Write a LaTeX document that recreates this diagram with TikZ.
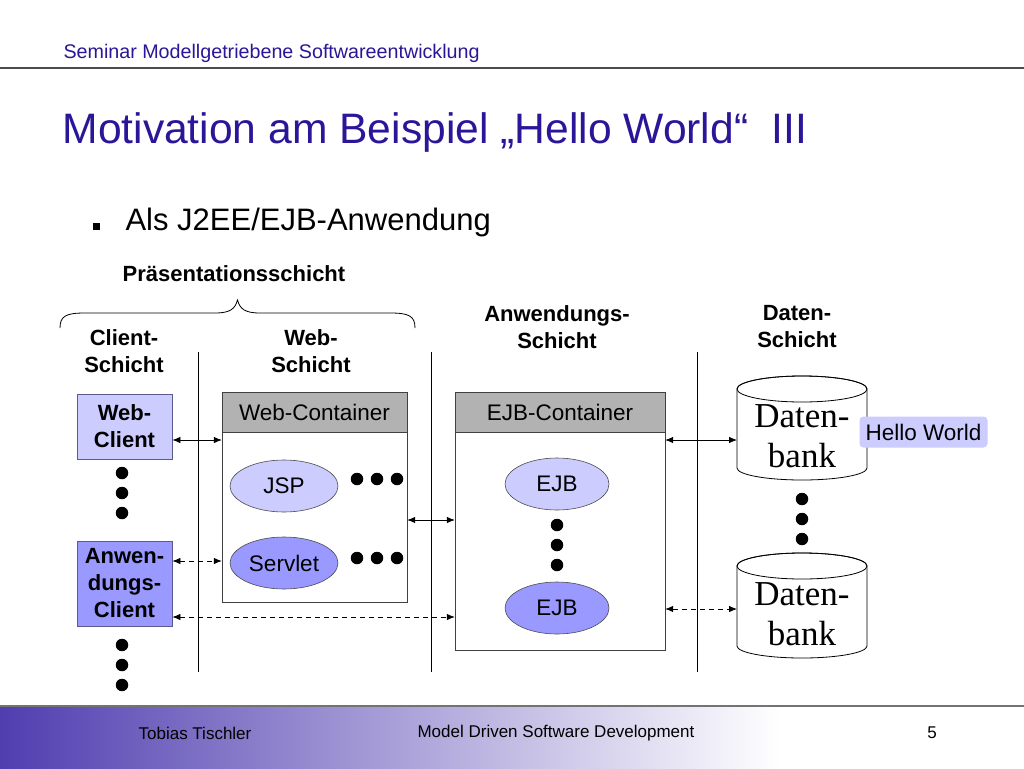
\documentclass[tikz,border=0pt]{standalone}
\usepackage{fontspec}
\setmainfont{Liberation Sans}
\newfontfamily\serifdb{Liberation Serif}
\usetikzlibrary{arrows.meta,shapes.geometric}
\definecolor{tblue}{RGB}{42,22,152}
\definecolor{lightlav}{RGB}{204,204,255}
\definecolor{midlav}{RGB}{153,153,255}
\definecolor{hdrgray}{RGB}{178,178,178}
\definecolor{footL}{RGB}{80,62,176}
\definecolor{boxborder}{RGB}{90,90,140}
\tikzset{
  fs/.style={font=\fontsize{#1}{#1}\selectfont},
  lbl/.style={align=center,font=\fontsize{22}{27}\selectfont\bfseries},
  client/.style={draw=boxborder,line width=0.8pt,align=center,minimum width=95,inner sep=0pt,font=\fontsize{22}{27}\selectfont\bfseries},
  container/.style={draw=black!75,line width=0.8pt,fill=white},
  hdr/.style={draw=black!75,line width=0.8pt,fill=hdrgray,font=\fontsize{22.5}{23}\selectfont,inner sep=0pt},
  comp/.style={ellipse,draw=black!70,line width=0.6pt,minimum width=108,minimum height=52,inner sep=0pt,font=\fontsize{22.5}{23}\selectfont},
  dot/.style={circle,fill=black,minimum size=12.5,inner sep=0pt},
  sep/.style={line width=0.8pt},
  link/.style={line width=0.8pt,{Latex[length=8,width=6.5]}-{Latex[length=8,width=6.5]}},
  dlink/.style={link,dash pattern=on 5pt off 4pt},
  dbtext/.style={align=center,font=\fontsize{35}{40}\selectfont\serifdb,inner sep=0pt},
}
\begin{document}
\begin{tikzpicture}[x=1pt,y=-1pt]
\useasboundingbox (0,0) rectangle (1024,768);
\fill[white] (0,0) rectangle (1024,768);
% header
\node[fs=19.7,text=tblue,anchor=west] (head) at (60,53) {Seminar Modellgetriebene Softwareentwicklung};
\draw[line width=1.6pt,black!70] (0,68) -- (1024,68);
\node[fs=42.6,text=tblue,anchor=west] (title) at (59,132) {Motivation am Beispiel „Hello World“\ \ III};
\node[fill=black,minimum size=7,inner sep=0pt] (bul) at (96,226) {};
\node[fs=31,anchor=west] (bt) at (122,222) {Als J2EE/EJB-Anwendung};
% layer labels
\node[lbl] (pres) at (234,274) {Präsentationsschicht};
\draw[line width=0.8pt] (60,328) .. controls (60,316) and (66,313) .. (85,313) -- (215,313) .. controls (230,313) and (235,309) .. (237.5,300)
  .. controls (240,309) and (245,313) .. (260,313) -- (390,313) .. controls (409,313) and (415,316) .. (415,328);
\node[lbl] (cs) at (124,351) {Client-\\Schicht};
\node[lbl] (ws) at (311,351) {Web-\\Schicht};
\node[lbl] (as) at (557,327) {Anwendungs-\\Schicht};
\node[lbl] (ds) at (797,327) {Daten-\\Schicht};
\draw[sep] (198,352) -- (198,672);
\draw[sep] (431,352) -- (431,672);
\draw[sep] (697,352) -- (697,672);
% clients
\node[client,fill=lightlav,minimum height=65] (wc) at (124.5,426.5) {Web-\\Client};
\node[client,fill=midlav,minimum height=85] (ac) at (124.5,583.5) {Anwen-\\dungs-\\Client};
\foreach \y/\n in {473/a,493/b,513/c} \node[dot] (wcd\n) at (122,\y) {};
\foreach \y/\n in {645/a,665/b,685/c} \node[dot] (acd\n) at (122,\y) {};
% web container
\draw[container] (222,392) rectangle (407,602);
\node[hdr,minimum width=185,minimum height=40] (wch) at (314.5,412) {Web-Container};
\node[minimum width=185,minimum height=210,inner sep=0pt] (webc) at (314.5,497) {};
\node[comp,fill=lightlav] (jsp) at (284,486) {JSP};
\node[comp,fill=midlav] (servlet) at (284,563) {Servlet};
\foreach \x/\n in {357/a,377/b,397/c} {\node[dot] (jd\n) at (\x,479) {}; \node[dot] (sd\n) at (\x,558) {};}
% ejb container
\draw[container] (455,392) rectangle (665,650);
\node[hdr,minimum width=210,minimum height=40] (ejbh) at (560,412) {EJB-Container};
\node[minimum width=210,minimum height=258,inner sep=0pt] (ejbc) at (560,521) {};
\node[comp,fill=lightlav,minimum width=104] (ejb1) at (557,484) {EJB};
\node[comp,fill=midlav,minimum width=104] (ejb2) at (557,608) {EJB};
\foreach \y/\n in {525/a,545/b,565/c} \node[dot] (ed\n) at (557,\y) {};
% databases
\foreach \yt/\yb in {389/468,566/646} {
  \draw[line width=0.8pt,fill=white] (737,\yt) -- (737,\yb) arc[start angle=180,end angle=0,x radius=65,y radius=12] -- (867,\yt) arc[start angle=0,end angle=-180,x radius=65,y radius=13];
  \draw[line width=0.8pt] (802,\yt) ellipse[x radius=65,y radius=13];
}
\node[dbtext] (db1) at (802,436) {Daten-\\bank};
\node[dbtext] (db2) at (802,614) {Daten-\\bank};
\coordinate (db1w) at (737,440);
\coordinate (db2w) at (737,609);
\foreach \y/\n in {499/a,519/b,539/c} \node[dot] (dd\n) at (802,\y) {};
\node[fill=lightlav,rounded corners=4pt,fs=22.5,minimum width=128,minimum height=31,inner sep=0pt] (hw) at (923.5,432) {Hello World};
% links
\draw[link] (wc.east|-0,440) -- (webc.west|-0,440);
\draw[dlink] (ac.east|-0,561) -- (webc.west|-0,561);
\draw[dlink] (ac.east|-0,617) -- (ejbc.west|-0,617);
\draw[link] (webc.east|-0,520) -- (ejbc.west|-0,520);
\draw[link] (ejbc.east|-0,440) -- (db1w);
\draw[dlink] (ejbc.east|-0,609) -- (db2w);
% footer
\shade[left color=footL,right color=white] (0,706) rectangle (780,768);
\draw[line width=1.2pt,black!55] (0,706) -- (1024,706);
\node[fs=17] (f1) at (195,733) {Tobias Tischler};
\node[fs=17] (f2) at (556,733) {Model Driven Software Development};
\node[fs=17] (f3) at (932,733) {5};
\end{tikzpicture}
\end{document}
